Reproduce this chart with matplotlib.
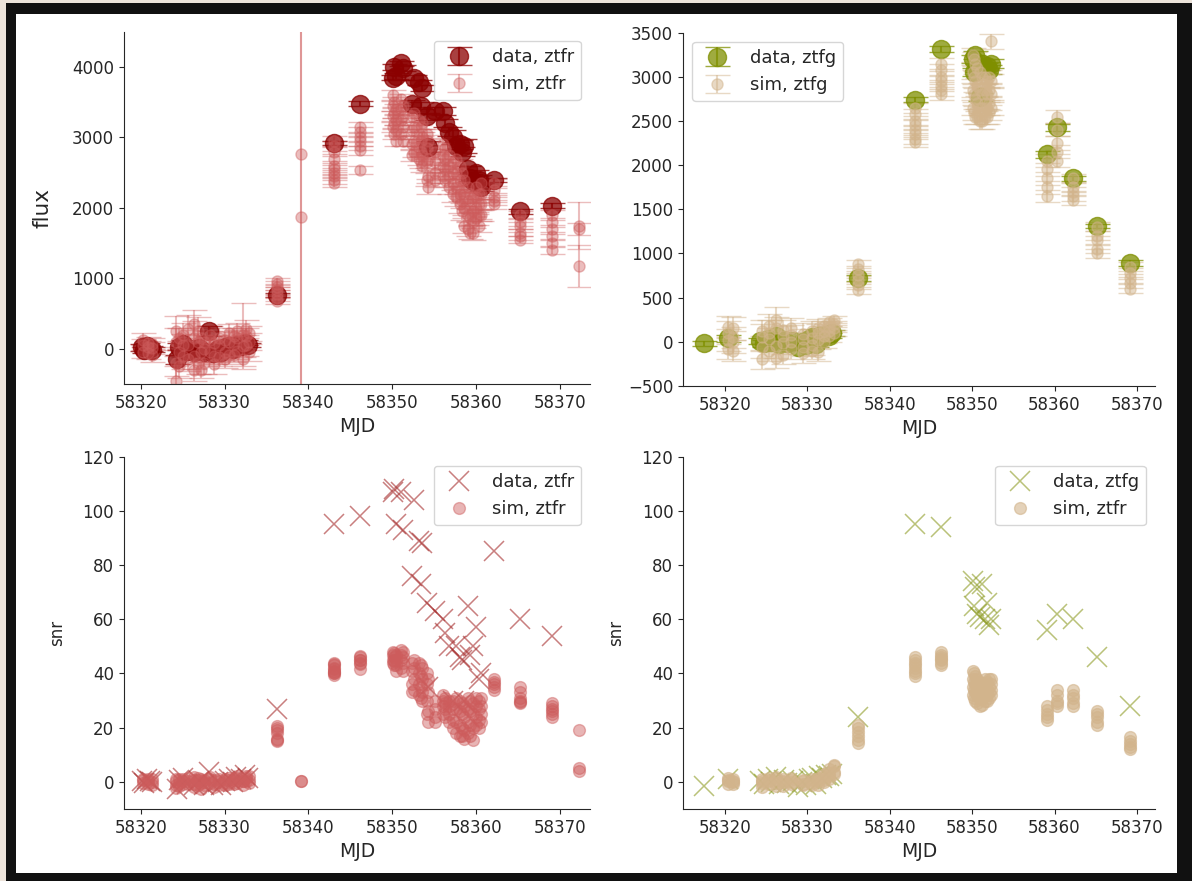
import numpy as np
import matplotlib
matplotlib.use("Agg")
import matplotlib.pyplot as plt
from matplotlib.patches import Rectangle

# ---- ztfr data ----
data_r_mjd = [58320.2, 58320.4, 58320.8, 58321.1, 58321.4, 58324.3, 58324.6, 58325.0, 58325.5,
              58326.3, 58327.0, 58327.5, 58328.2, 58328.6, 58329.2, 58329.6, 58330.1, 58330.5,
              58331.0, 58331.4, 58332.0, 58332.4, 58332.8, 58336.2, 58343.1, 58346.2,
              58350.1, 58350.2, 58350.4, 58351.1, 58351.3, 58352.4, 58352.6, 58353.2, 58353.4,
              58353.6, 58354.1, 58354.3, 58355.1, 58356.0, 58356.3, 58356.8, 58357.3, 58357.6,
              58358.1, 58358.3, 58358.6, 58359.1, 58359.3, 58359.6, 58360.0, 58360.3, 58360.6,
              58362.1, 58365.2, 58369.1]
data_r_flux = [20, -20, 40, 10, -10, -150, 30, 70, -30,
               -50, 10, -40, 250, -60, 0, -50, 20, 40,
               0, 60, 40, 90, 50, 770, 2920, 3480,
               3850, 4000, 3870, 4050, 3980, 3480, 3850, 3780, 3450,
               3700, 3300, 2870, 3380, 3380, 3200, 3080, 3000, 2880,
               2900, 2800, 2880, 2550, 2430, 2380, 2500, 2400, 2300,
               2400, 1950, 2030]
data_r_err = [45, 40, 40, 35, 40, 60, 50, 50, 45,
              45, 40, 40, 70, 45, 40, 40, 40, 40,
              35, 35, 35, 35, 30, 28, 31, 36,
              36, 37, 41, 38, 43, 46, 37, 42, 47,
              42, 50, 82, 54, 56, 58, 62, 100, 58,
              63, 62, 97, 39, 52, 48, 44, 63, 57,
              28, 32, 38]
data_r_snr = [0.4, -0.5, 1.0, 0.3, -0.2, -2.5, 0.6, 1.4, -0.7,
              -1.1, 0.2, -1.0, 3.5, -1.3, 0.0, -1.2, 0.5, 1.0,
              0.0, 1.7, 1.1, 2.5, 1.6, 27, 95, 98,
              107, 108, 95, 107, 93, 76, 104, 89, 73,
              88, 66, 35, 63, 60, 55, 50, 30, 50,
              46, 45, 30, 65, 47, 50, 57, 38, 40,
              85, 60, 54]

# ---- ztfr simulations ----
sim_r_mjd = [58320.3] * 3 + [58320.9] * 3 + [58321.3] * 3 + [58324.2] * 4 + [58324.6] * 3 \
    + [58325.1] * 3 + [58325.6] * 3 + [58326.3] * 4 + [58326.8] * 3 + [58327.2] * 3 \
    + [58327.6] * 3 + [58328.3] * 3 + [58328.7] * 3 + [58329.3] * 3 + [58330.0] * 3 \
    + [58330.5] * 3 + [58331.1] * 3 + [58331.5] * 3 + [58332.2] * 3 + [58332.5] * 3 \
    + [58332.9] * 3 + [58336.2] * 7 + [58339.1] * 2 + [58343.1] * 10 + [58346.2] * 7 \
    + [58350.1] * 4 + [58350.2] * 4 + [58350.4] * 4 + [58351.1] * 4 + [58351.3] * 4 \
    + [58352.4] * 4 + [58352.6] * 4 + [58353.2] * 4 + [58353.4] * 4 + [58353.6] * 4 \
    + [58354.1] * 4 + [58354.3] * 4 + [58355.1] * 4 + [58356.0] * 4 + [58356.3] * 4 \
    + [58356.8] * 4 + [58357.3] * 4 + [58357.6] * 4 + [58358.1] * 4 + [58358.3] * 4 \
    + [58358.6] * 4 + [58359.1] * 4 + [58359.3] * 4 + [58359.6] * 4 + [58360.0] * 4 \
    + [58360.3] * 4 + [58360.6] * 4 + [58362.1] * 5 + [58365.2] * 6 + [58369.1] * 6 \
    + [58372.3] * 3
sim_r_flux = [60, -40, 120, -60, 30, 90, 10, -90, 70, -450, -200, 100, 250, 150, -50, -250,
              -100, 200, 50, 50, -150, 280, 350, 150, -100, -300, -200, 100, 250,
              -300, -50, 150, 100, -200, 0, 200, -50, 120, -100, 80, -220,
              50, -120, 160, -50, 120, -150, 100, -80, 220, -80, 70, 180,
              150, -30, 250, 200, 40, -150, 50, 180, 280, 100, 220, -50,
              680, 720, 780, 830, 880, 920, 960,
              2760, 1870,
              2950, 2880, 2800, 2700, 2600, 2550, 2500, 2450, 2400, 2360,
              3150, 3080, 3000, 2950, 2880, 2820, 2540,
              3600, 3450, 3300, 3150, 3500, 3350, 3200, 3050, 3400, 3250, 3100, 2950,
              3550, 3400, 3250, 3050, 3450, 3300, 3150, 2950,
              3300, 3100, 2900, 2750, 3350, 3150, 2950, 2800, 3250, 3050, 2850, 2700,
              3150, 2950, 2800, 2650, 3200, 3000, 2750, 2600,
              3050, 2850, 2650, 2400, 2950, 2700, 2450, 2300, 2800, 2650, 2500, 2400,
              2900, 2750, 2600, 2450, 2850, 2700, 2550, 2400, 2750, 2600, 2450, 2300,
              2650, 2500, 2350, 2200, 2700, 2500, 2300, 2150, 2600, 2400, 2200, 2050,
              2500, 2300, 2100, 1950, 2400, 2200, 2000, 1750,
              2300, 2100, 1900, 1700, 2200, 2000, 1850, 1650, 2150, 1950, 1800, 1650,
              2300, 2150, 2000, 1850, 2200, 2050, 1900, 1750, 2350, 2200, 2050, 1900,
              2350, 2250, 2150, 2100, 2050,
              1900, 1800, 1750, 1650, 1600, 1550,
              1900, 1800, 1700, 1600, 1500, 1400,
              1700, 1750, 1180]
sim_r_err = [80, 90, 100, 90, 80, 80, 85, 90, 80, 200, 180, 200, 220, 150, 160, 170,
             180, 170, 160, 150, 160, 200, 200, 250, 180, 160, 150, 170, 200,
             120, 140, 150, 150, 150, 140, 120, 130, 130, 120, 120, 130,
             130, 120, 130, 120, 120, 120, 150, 130, 140, 100, 100, 110,
             120, 110, 120, 450, 150, 130, 150, 120, 130, 120, 110, 120,
             45, 46, 49, 46, 46, 46, 47,
             5500, 4000,
             67, 66, 65, 64, 63, 62, 62, 61, 60, 60,
             68, 67, 67, 66, 65, 65, 61,
             75, 73, 73, 72, 74, 73, 72, 71, 72, 72, 72, 72,
             73, 72, 72, 73, 72, 72, 72, 72,
             75, 76, 81, 83, 74, 75, 78, 82, 74, 76, 79, 84,
             73, 76, 80, 85, 76, 79, 83, 87,
             76, 79, 88, 96, 78, 82, 94, 105, 93, 98, 104, 109,
             91, 92, 93, 98, 92, 93, 94, 100, 92, 93, 98, 105,
             88, 93, 102, 110, 87, 93, 105, 119, 87, 92, 105, 121,
             86, 92, 105, 115, 86, 92, 105, 109,
             74, 78, 86, 94, 73, 77, 88, 97, 74, 78, 90, 106,
             74, 77, 83, 88, 73, 76, 83, 88, 76, 79, 82, 86,
             62, 61, 60, 60, 60,
             54, 55, 56, 55, 54, 53,
             66, 64, 63, 62, 60, 58,
             89, 330, 295]
sim_r_snr = [0.8, -0.4, 1.2, -0.7, 0.4, 1.1, 0.1, -1.0, 0.9, -2.2, -1.1, 0.5, 1.1, 1.0, -0.3, -1.5,
             -0.6, 1.2, 0.3, 0.3, -0.9, 1.4, 1.8, 0.6, -0.6, -1.9, -1.3, 0.6, 1.3,
             -2.5, -0.4, 1.0, 0.7, -1.3, 0.0, 1.7, -0.4, 0.9, -0.8, 0.7, -1.7,
             0.4, -1.0, 1.2, -0.4, 1.0, -1.3, 0.7, -0.6, 1.6, -0.8, 0.7, 1.6,
             1.3, -0.3, 2.1, 0.4, 0.3, -1.2, 0.3, 1.5, 2.2, 0.8, 2.0, -0.4,
             15, 15.5, 16, 18, 19, 20, 20.5,
             0.5, 0.47,
             44, 43.5, 43, 42, 41.5, 41, 40.5, 40, 40, 39.5,
             46.5, 46, 45, 45, 44, 43.5, 41.5,
             48, 47, 45, 44, 47.5, 46, 44.5, 43, 47, 45, 43, 41,
             48.5, 47, 45, 42, 48, 46, 44, 41,
             44, 41, 36, 33, 45, 42, 38, 34, 44, 40, 36, 32,
             43, 39, 35, 31, 42, 38, 33, 30,
             40, 36, 30, 25, 38, 33, 26, 22, 30, 27, 24, 22,
             32, 30, 28, 25, 31, 29, 27, 24, 30, 28, 25, 22,
             30, 27, 23, 20, 31, 27, 22, 18, 30, 26, 21, 17,
             29, 25, 20, 17, 28, 24, 19, 16,
             31, 27, 22, 18, 30, 26, 21, 17, 29, 25, 20, 15.5,
             31, 28, 24, 21, 30, 27, 23, 20, 31, 28, 25, 22,
             38, 37, 36, 35, 34,
             35, 33, 31, 30, 29.5, 29,
             29, 28, 27, 26, 25, 24,
             19, 5.3, 4.0]

# ---- ztfg data ----
data_g_mjd = [58317.5, 58320.3, 58324.3, 58324.7, 58325.2, 58325.6, 58326.2, 58326.6, 58327.1,
              58327.5, 58328.2, 58328.8, 58329.3, 58329.8, 58330.2, 58330.6, 58331.0, 58331.4,
              58331.8, 58332.2, 58332.6, 58333.0, 58336.2, 58343.1, 58346.2,
              58350.1, 58350.2, 58350.4, 58350.6, 58351.0, 58351.2, 58351.5, 58351.8, 58352.1,
              58352.3, 58359.1, 58360.3, 58362.2, 58365.2, 58369.2]
data_g_flux = [-20, 40, 10, -20, 30, 0, 60, -30, 20,
               -10, 10, -60, 0, -40, 30, 50, -30, 60,
               40, 80, 70, 100, 720, 2740, 3310,
               3200, 3050, 3250, 3100, 2770, 3150, 3100, 3120, 3080,
               3150, 2120, 2430, 1850, 1310, 890]
data_g_err = [30, 40, 35, 35, 35, 35, 35, 35, 35,
              35, 35, 35, 35, 35, 35, 35, 35, 30,
              30, 30, 30, 35, 30, 29, 35,
              43, 47, 45, 50, 45, 43, 52, 47, 53,
              53, 38, 39, 31, 28, 32]
data_g_snr = [-1.5, 1.0, 0.3, -0.6, 0.9, 0.0, 1.7, -0.9, 0.6,
              -0.3, 0.3, -1.7, 0.0, -1.1, 0.9, 1.4, -0.9, 2.0,
              1.3, 2.7, 2.3, 2.9, 24, 95, 94,
              74, 65, 72, 62, 61, 73, 60, 66, 58,
              60, 56, 62, 60, 46, 28]

# ---- ztfg simulations ----
sim_g_mjd = [58320.3] * 4 + [58321.0] * 4 + [58324.5] * 4 + [58325.3] * 4 + [58326.2] * 4 \
    + [58327.0] * 4 + [58328.0] * 4 + [58329.5] * 4 + [58330.5] * 4 + [58331.3] * 4 \
    + [58332.0] * 4 + [58332.6] * 4 + [58333.2] * 4 + [58336.2] * 6 + [58343.1] * 8 \
    + [58346.2] * 7 + [58350.1] * 4 + [58350.2] * 4 + [58350.4] * 4 + [58350.6] * 4 \
    + [58351.0] * 4 + [58351.2] * 4 + [58351.5] * 4 + [58351.8] * 4 + [58352.1] * 4 \
    + [58352.3] * 4 + [58359.1] * 5 + [58360.3] * 5 + [58362.2] * 5 + [58365.2] * 5 \
    + [58369.2] * 5
sim_g_flux = [100, -80, 20, 170, 50, 150, -100, 0, -200, 50, -60, 120, 100, -100, 30, 180,
              150, -50, 250, -180, 60, -150, 130, -20, 80, -80, 150, 0, -60, 90, -130, 30,
              120, -100, 40, -40, 100, 20, -120, 160, 180, 60, 120, 0, 220, 120, 170, 60,
              200, 150, 250, 100,
              880, 820, 760, 700, 640, 580,
              2650, 2580, 2500, 2450, 2400, 2350, 2300, 2260,
              3150, 3080, 3000, 2950, 2900, 2850, 2800,
              3250, 3050, 2850, 2650, 3200, 3000, 2800, 2600, 3150, 2950, 2750, 2550,
              3100, 2900, 2700, 2550, 3050, 2850, 2650, 2500, 3000, 2800, 2650, 2500,
              3000, 2850, 2700, 2550, 2950, 2800, 2650, 2550, 3000, 2850, 2700, 2600,
              3400, 2950, 2800, 2650,
              2050, 1950, 1850, 1750, 1650,
              2550, 2400, 2250, 2150, 2050,
              1850, 1750, 1700, 1650, 1600,
              1300, 1200, 1150, 1050, 1000,
              850, 780, 720, 660, 600]
sim_g_err = [130, 120, 125, 120, 120, 130, 120, 125, 110, 150, 130, 130, 150, 120, 130, 130,
             130, 140, 140, 120, 120, 100, 120, 120, 110, 120, 120, 110, 100, 120, 110, 110,
             110, 100, 100, 110, 100, 100, 100, 100, 60, 80, 60, 70, 45, 60, 50, 60,
             35, 40, 40, 35,
             42, 41, 41, 41, 41, 40,
             58, 57, 57, 57, 57, 57, 58, 58,
             66, 66, 65, 65, 64, 65, 65,
             79, 80, 81, 83, 80, 81, 82, 84, 81, 82, 83, 85,
             82, 83, 84, 88, 82, 84, 85, 89, 83, 85, 85, 88,
             79, 81, 84, 85, 80, 82, 83, 85, 79, 81, 82, 84,
             89, 82, 82, 83,
             73, 74, 74, 73, 72,
             75, 75, 75, 74, 73,
             54, 55, 55, 57, 57,
             50, 48, 48, 48, 48,
             52, 52, 51, 51, 50]
sim_g_snr = [0.8, -0.7, 0.2, 1.4, 0.4, 1.2, -0.8, 0.0, -1.8, 0.3, -0.5, 0.9, 0.7, -0.8, 0.2, 1.4,
             1.2, -0.4, 1.8, -1.5, 0.5, -1.5, 1.1, -0.2, 0.7, -0.7, 1.3, 0.0, -0.6, 0.8, -1.2, 0.3,
             1.1, -1.0, 0.4, -0.4, 1.0, 0.2, -1.2, 1.6, 3.0, 0.8, 2.0, 0.0, 4.9, 2.0, 3.4, 1.0,
             5.7, 3.8, 6.2, 2.9,
             21, 20, 18.5, 17, 15.5, 14.5,
             46, 45, 44, 43, 42, 41, 40, 39,
             48, 47, 46, 45.5, 45, 44, 43,
             41, 38, 35, 32, 40, 37, 34, 31, 39, 36, 33, 30,
             38, 35, 32, 29, 37, 34, 31, 28, 36, 33, 31, 28.5,
             38, 35, 32, 30, 37, 34, 32, 30, 38, 35, 33, 31,
             38, 36, 34, 32,
             28, 26.5, 25, 24, 23,
             34, 32, 30, 29, 28,
             34, 32, 31, 29, 28,
             26, 25, 24, 22, 21,
             16.5, 15, 14, 13, 12]

red_data, red_sim = "#8b0000", "#cd5c5c"
green_data, green_sim = "#7f8f00", "#d2b48c"

plt.rcParams["font.family"] = "DejaVu Sans"
plt.rcParams["text.color"] = "0.15"
plt.rcParams["axes.labelcolor"] = "0.15"
plt.rcParams["xtick.color"] = "0.15"
plt.rcParams["ytick.color"] = "0.15"
plt.rcParams["xtick.labelsize"] = 12
plt.rcParams["ytick.labelsize"] = 12
plt.rcParams["axes.labelsize"] = 13.5
plt.rcParams["legend.fontsize"] = 13
plt.rcParams["axes.edgecolor"] = "0.15"

fig = plt.figure(figsize=(11.92, 8.81), dpi=100)
fig.patch.set_facecolor("#111111")
fig.patches.append(Rectangle((0, 0), 6 / 1192, 1, transform=fig.transFigure,
                             facecolor="#ede4db", edgecolor="none", zorder=-3))
fig.patches.append(Rectangle((0, 1 - 3 / 881), 1, 3 / 881, transform=fig.transFigure,
                             facecolor="#ede4db", edgecolor="none", zorder=-3))
fig.patches.append(Rectangle((16 / 1192, 8 / 881), (1177 - 16) / 1192, (873 - 14) / 881,
                             transform=fig.transFigure, facecolor="white",
                             edgecolor="none", zorder=-2))

ax_fr = fig.add_axes([0.104, 0.564, 0.391, 0.400])
ax_fg = fig.add_axes([0.573, 0.562, 0.396, 0.401])
ax_sr = fig.add_axes([0.104, 0.0817, 0.391, 0.400])
ax_sg = fig.add_axes([0.573, 0.0817, 0.396, 0.400])

for ax in (ax_fr, ax_fg, ax_sr, ax_sg):
    ax.set_facecolor("none")
    ax.spines["top"].set_visible(False)
    ax.spines["right"].set_visible(False)
    ax.set_xlabel("MJD")

# flux light curves
ax_fr.errorbar(data_r_mjd, data_r_flux, yerr=data_r_err, fmt="o", color=red_data,
               ms=13, capsize=9, alpha=0.75, label="data, ztfr")
ax_fr.errorbar(sim_r_mjd, sim_r_flux, yerr=sim_r_err, fmt="o", color=red_sim,
               ms=8, capsize=9, alpha=0.4, label="sim, ztfr")
ax_fr.set_ylim(-500, 4500)
ax_fr.set_xlim(58318.0, 58373.6)
ax_fr.set_ylabel("flux", fontsize=15.5, labelpad=14)
ax_fr.legend(loc="upper right")

ax_fg.errorbar(data_g_mjd, data_g_flux, yerr=data_g_err, fmt="o", color=green_data,
               ms=13, capsize=9, alpha=0.75, label="data, ztfg")
ax_fg.errorbar(sim_g_mjd, sim_g_flux, yerr=sim_g_err, fmt="o", color=green_sim,
               ms=8, capsize=9, alpha=0.5, label="sim, ztfg")
ax_fg.set_ylim(-500, 3500)
ax_fg.set_xlim(58314.9, 58372.2)
ax_fg.legend(loc="upper left")

# signal to noise
ax_sr.plot(data_r_mjd, data_r_snr, "x", color="#a52a2a", ms=15, mew=1.1,
           alpha=0.6, label="data, ztfr")
ax_sr.plot(sim_r_mjd, sim_r_snr, "o", color=red_sim, ms=8.5, alpha=0.45,
           label="sim, ztfr")
ax_sr.set_ylim(-10, 120)
ax_sr.set_xlim(58318.0, 58373.6)
ax_sr.set_ylabel("snr", fontsize=12, labelpad=12)
ax_sr.legend(loc="upper right")

ax_sg.plot(data_g_mjd, data_g_snr, "x", color="#8c9a20", ms=15, mew=1.1,
           alpha=0.6, label="data, ztfg")
ax_sg.plot(sim_g_mjd, sim_g_snr, "o", color=green_sim, ms=8.5, alpha=0.6,
           label="sim, ztfr")
ax_sg.set_ylim(-10, 120)
ax_sg.set_xlim(58314.9, 58372.2)
ax_sg.set_ylabel("snr", fontsize=12, labelpad=12)
ax_sg.legend(loc="upper right")

fig.savefig("out.png", dpi=100, facecolor=fig.get_facecolor())
